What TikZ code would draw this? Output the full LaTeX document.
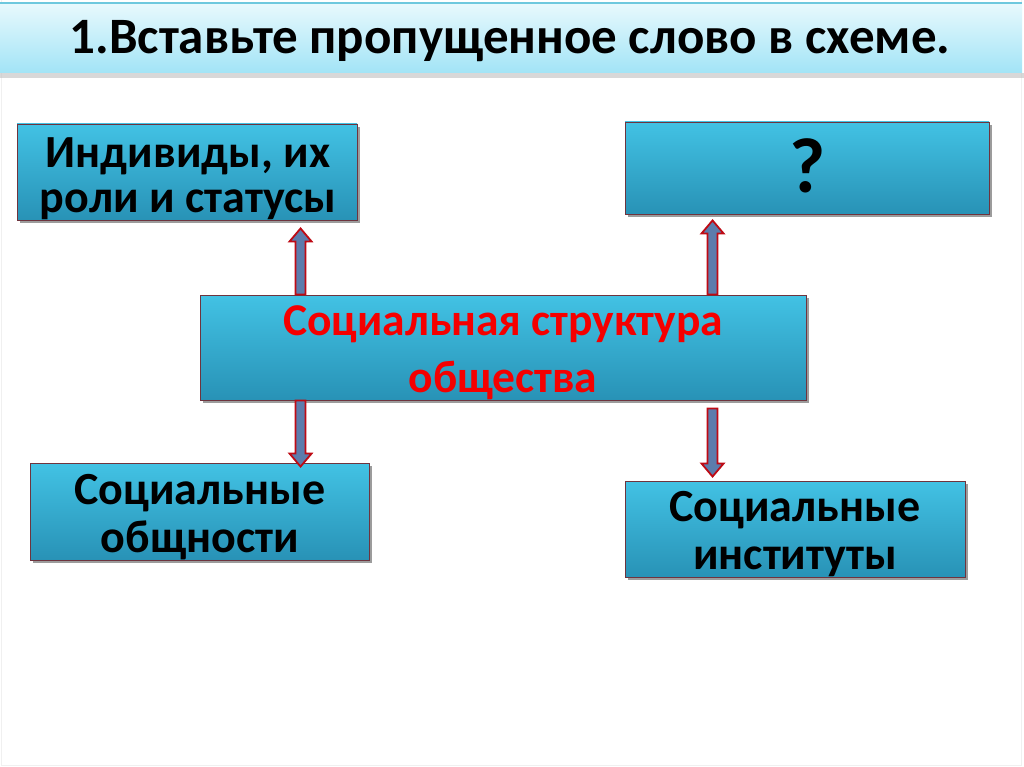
\documentclass[tikz,border=0pt]{standalone}
\usepackage{fontspec}
\setmainfont{Carlito}
\usetikzlibrary{shadows,calc}
\definecolor{boxtop}{RGB}{66,194,228}
\definecolor{boxbot}{RGB}{40,146,182}
\definecolor{boxline}{RGB}{110,52,62}
\definecolor{arrfill}{RGB}{92,124,172}
\definecolor{arrline}{RGB}{190,10,20}
\definecolor{redtxt}{RGB}{245,0,0}
\definecolor{bartop}{RGB}{232,249,253}
\definecolor{barbot}{RGB}{162,228,246}
\definecolor{barline}{RGB}{110,200,222}
\tikzset{
  box/.style={rectangle, draw=boxline, line width=0.9pt, top color=boxtop, bottom color=boxbot,
    drop shadow={shadow xshift=3pt, shadow yshift=-3pt, opacity=0.55, fill=black!70},
    inner sep=0pt},
  boxtext/.style={anchor=base, inner sep=0pt, font=\bfseries},
  barrow/.style={fill=arrfill, draw=arrline, line width=1.8pt, line join=miter}
}
% two centred lines; baseline of the node = baseline of the first line
\newcommand\twolines[4]{{\fontsize{#1}{#2}\selectfont\begin{tabular}[t]{@{}c@{}}#3\\#4\end{tabular}}}
\newcommand\blockarr[2]{%
  \filldraw[barrow] let \p1=(#1), \p2=(#2), \n1={(\y2>\y1) ? 1 : -1} in
    ({\x1-5pt},\y1) -- ({\x1-5pt},{\y2-\n1*13pt}) -- ({\x1-11pt},{\y2-\n1*13pt}) -- (\x1,\y2)
    -- ({\x1+11pt},{\y2-\n1*13pt}) -- ({\x1+5pt},{\y2-\n1*13pt}) -- ({\x1+5pt},\y1) -- cycle;}
\begin{document}
\begin{tikzpicture}[x=1pt,y=-1pt]
\useasboundingbox (0,0) rectangle (1024,767);
\fill[white] (0,0) rectangle (1024,767);
\draw[black!6, line width=1pt] (1,0) -- (1,765) -- (1021,765) -- (1021,0);
% title bar
\fill[black!25, opacity=0.6] (0,73) rectangle (1024,78);
\shade[top color=bartop, bottom color=barbot] (0,3) rectangle (1022,73);
\draw[barline, line width=1.5pt] (0,3) -- (1022,3);
\node[anchor=base, font=\fontsize{51}{55}\selectfont\bfseries] (title) at (510,53.5) {1.Вставьте пропущенное слово в схеме.};
% boxes
\node[box, minimum width=340pt, minimum height=96pt] (il) at (187,172) {};
\node[box, minimum width=364pt, minimum height=92pt] (q) at (807,168) {};
\node[box, minimum width=606pt, minimum height=105pt] (c) at (503,347.5) {};
\node[box, minimum width=339pt, minimum height=97pt] (bl) at (199.5,511.5) {};
\node[box, minimum width=340pt, minimum height=96pt] (br) at (795,529) {};
% texts
\node[boxtext] (il-t) at (188,168) {\twolines{46}{45}{Индивиды, их}{роли и статусы}};
\node[boxtext, font=\fontsize{78}{80}\selectfont\bfseries] (q-t) at (808,193) {?};
\node[boxtext, text=redtxt] (c-t) at (503,335) {\twolines{45.5}{57}{Социальная структура}{общества}};
\node[boxtext] (bl-t) at (200,504) {\twolines{46}{48}{Социальные}{общности}};
\node[boxtext] (br-t) at (795,521) {\twolines{46}{48}{Социальные}{институты}};
% arrows
\coordinate (a1s) at ([xshift=101pt]c.north west);
\coordinate (a1e) at ([yshift=-8pt]a1s |- il.south);
\coordinate (a2s) at ([xshift=101pt]c.south west);
\coordinate (a2e) at ([yshift=-4pt]a2s |- bl.north);
\coordinate (a3s) at ([xshift=513pt]c.north west);
\coordinate (a3e) at ([yshift=-6pt]a3s |- q.south);
\coordinate (a4s) at ([xshift=513pt,yshift=-8pt]c.south west);
\coordinate (a4e) at ([yshift=4pt]a4s |- br.north);
\blockarr{a1s}{a1e}
\blockarr{a2s}{a2e}
\blockarr{a3s}{a3e}
\blockarr{a4s}{a4e}
\end{tikzpicture}
\end{document}
